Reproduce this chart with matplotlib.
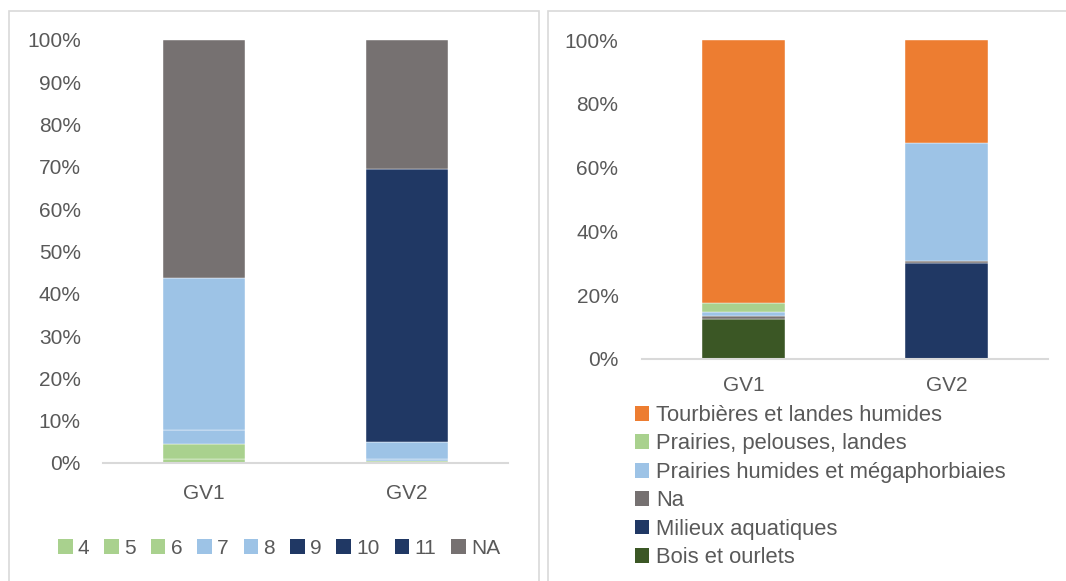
import matplotlib.pyplot as plt
from matplotlib.patches import Patch, Rectangle

plt.rcParams['font.family'] = ['Liberation Sans', 'DejaVu Sans']

# --- data -----------------------------------------------------------------
sites = ["GV1", "GV2"]

# left chart: share of each class (%)
class_labels = ["4", "5", "6", "7", "8", "9", "10", "11", "NA"]
c4 = [1.0, 0.5]
c5 = [0.0, 0.0]
c6 = [3.5, 0.0]
c7 = [3.3, 0.4]
c8 = [36.0, 4.1]
c9 = [0.0, 0.0]
c10 = [0.0, 0.0]
c11 = [0.0, 64.5]
c_na = [56.2, 30.5]

# right chart: share of each habitat group (%), bottom to top
habitat_labels = ["Bois et ourlets", "Milieux aquatiques", "Na",
                  "Prairies humides et mégaphorbiaies",
                  "Prairies, pelouses, landes",
                  "Tourbières et landes humides"]
bois = [12.5, 0.0]
milieux = [0.0, 30.1]
na = [1.0, 0.5]
prairies_hum = [1.1, 37.1]
prairies_pel = [2.9, 0.0]
tourbieres = [82.5, 32.3]

GREEN = "#A9D18E"
LBLUE = "#9DC3E6"
NAVY = "#203864"
GREY = "#767171"
ORANGE = "#ED7D31"
DGREEN = "#3B5725"
TXT = "#595959"
LINE = "#D9D9D9"

W, H = 1066, 581
fig = plt.figure(figsize=(W / 100, H / 100), dpi=100)


def px_axes(x0, y_top, x1, y_bot):
    return fig.add_axes([x0 / W, 1 - y_bot / H, (x1 - x0) / W, (y_bot - y_top) / H])


def frame(x0, y0, x1, y1):
    fig.patches.append(Rectangle((x0 / W, 1 - y1 / H), (x1 - x0) / W, (y1 - y0) / H,
                                 transform=fig.transFigure, fill=False,
                                 edgecolor=LINE, linewidth=1.2))


def stack(ax, series, colors):
    bottom = [0.0] * len(sites)
    for vals, col in zip(series, colors):
        for i, v in enumerate(vals):
            if v > 0:
                ax.bar(i, v, bottom=bottom[i], width=0.405, color=col,
                       edgecolor="white", linewidth=0.3)
            bottom[i] += v


def style(ax, step, pad_y, pad_x):
    ax.set_xlim(-0.5, 1.5)
    ax.set_ylim(0, 100)
    ax.set_yticks(range(0, 101, step))
    ax.set_yticklabels([f"{t}%" for t in range(0, 101, step)])
    ax.set_xticks(range(len(sites)))
    ax.set_xticklabels(sites)
    for s in ["top", "right", "left"]:
        ax.spines[s].set_visible(False)
    ax.spines["bottom"].set_color(LINE)
    ax.spines["bottom"].set_linewidth(1.5)
    ax.tick_params(axis="y", length=0, pad=pad_y, labelsize=15, labelcolor=TXT)
    ax.tick_params(axis="x", length=0, pad=pad_x, labelsize=15, labelcolor=TXT)


# panel borders
frame(9, 11, 539, 590)
frame(548, 11, 1075, 590)

# left chart
ax1 = px_axes(103, 40, 508, 463)
left_series = [c4, c5, c6, c7, c8, c9, c10, c11, c_na]
left_colors = [GREEN, GREEN, GREEN, LBLUE, LBLUE, NAVY, NAVY, NAVY, GREY]
stack(ax1, left_series, left_colors)
style(ax1, 10, 16, 15)

handles1 = [Patch(facecolor=c, label=l) for c, l in zip(left_colors, class_labels)]
fig.legend(handles=handles1, loc="center", bbox_to_anchor=(279 / W, 1 - 548 / H),
           ncol=9, frameon=False, fontsize=15, labelcolor=TXT,
           handlelength=0.7, handleheight=0.7, handletextpad=0.25,
           columnspacing=0.72, borderpad=0, borderaxespad=0)

# right chart
ax2 = px_axes(642, 40, 1048, 359)
right_series = [bois, milieux, na, prairies_hum, prairies_pel, tourbieres]
right_colors = [DGREEN, NAVY, GREY, LBLUE, GREEN, ORANGE]
stack(ax2, right_series, right_colors)
style(ax2, 20, 17, 12)

handles2 = [Patch(facecolor=c, label=l) for c, l in zip(right_colors, habitat_labels)][::-1]
fig.legend(handles=handles2, loc="upper left", bbox_to_anchor=(635 / W, 1 - 405 / H),
           ncol=1, frameon=False, fontsize=15.8, labelcolor=TXT,
           handlelength=0.65, handleheight=0.65, handletextpad=0.3,
           labelspacing=0.34, borderpad=0, borderaxespad=0)

fig.savefig("out.png", dpi=100, facecolor="white")
